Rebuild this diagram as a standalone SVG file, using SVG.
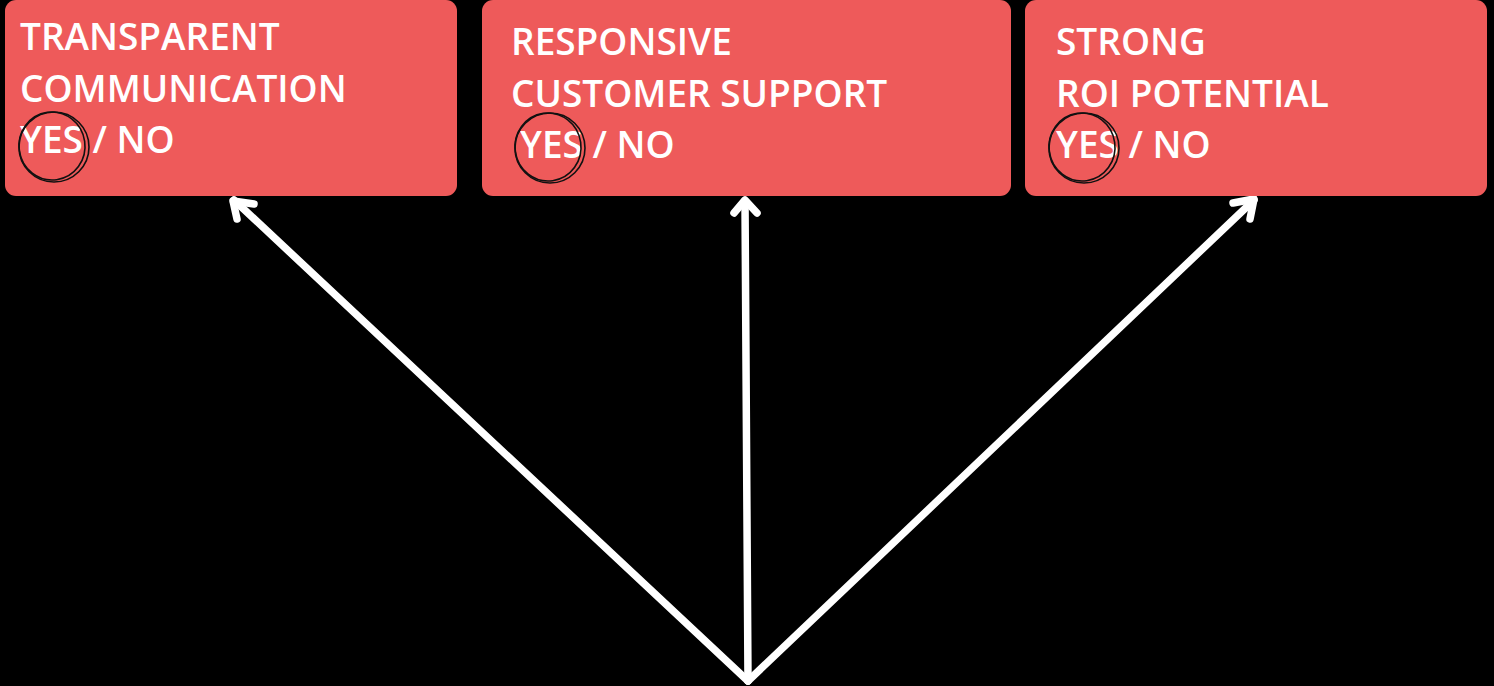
<svg xmlns="http://www.w3.org/2000/svg" width="1494" height="686" viewBox="0 0 1494 686">
  <style>
    .card { fill: #EE5A5A; }
    .label { font-family: "Open Sans", "Liberation Sans", sans-serif; font-weight: 600; font-size: 37px; fill: #FFFFFF; }
    .ring { fill: none; stroke: #111111; stroke-width: 1.6; }
    .arrow { fill: none; stroke: #FFFFFF; stroke-width: 7.5; stroke-linecap: round; stroke-linejoin: round; }
  </style>
  <rect width="1494" height="686" fill="#000000"/>

  <g id="connectors">
    <path class="arrow" d="M748 681 L234 200"/>
    <path class="arrow" d="M233 201 L254 204 M233 201 L237 219"/>
    <path class="arrow" d="M748 681 L745 201"/>
    <path class="arrow" d="M734 213 L745 200 L757 213"/>
    <path class="arrow" d="M748 681 L1254 200"/>
    <path class="arrow" d="M1233 203 L1254 199 L1250 219"/>
  </g>

  <g id="node-transparent">
    <rect class="card" x="5" y="0" width="452" height="196" rx="11"/>
    <text class="label" x="20" y="50">TRANSPARENT</text>
    <text class="label" x="20" y="102">COMMUNICATION</text>
    <text class="label" x="20" y="153">YES / NO</text>
    <ellipse class="ring" cx="54" cy="147" rx="35" ry="35"/>
    <ellipse class="ring" cx="52" cy="146" rx="33" ry="34" transform="rotate(-8 52 146)"/>
  </g>

  <g id="node-responsive">
    <rect class="card" x="482" y="0" width="529" height="196" rx="11"/>
    <text class="label" x="511" y="55">RESPONSIVE</text>
    <text class="label" x="511" y="107">CUSTOMER SUPPORT</text>
    <text class="label" x="520" y="158">YES / NO</text>
    <ellipse class="ring" cx="550" cy="148" rx="35" ry="35"/>
    <ellipse class="ring" cx="548" cy="147" rx="33" ry="34" transform="rotate(-8 548 147)"/>
  </g>

  <g id="node-roi">
    <rect class="card" x="1025" y="0" width="462" height="196" rx="11"/>
    <text class="label" x="1056" y="55">STRONG</text>
    <text class="label" x="1056" y="107">ROI POTENTIAL</text>
    <text class="label" x="1056" y="158">YES / NO</text>
    <ellipse class="ring" cx="1084" cy="148" rx="35" ry="35"/>
    <ellipse class="ring" cx="1082" cy="147" rx="33" ry="34" transform="rotate(-8 1082 147)"/>
  </g>
</svg>
